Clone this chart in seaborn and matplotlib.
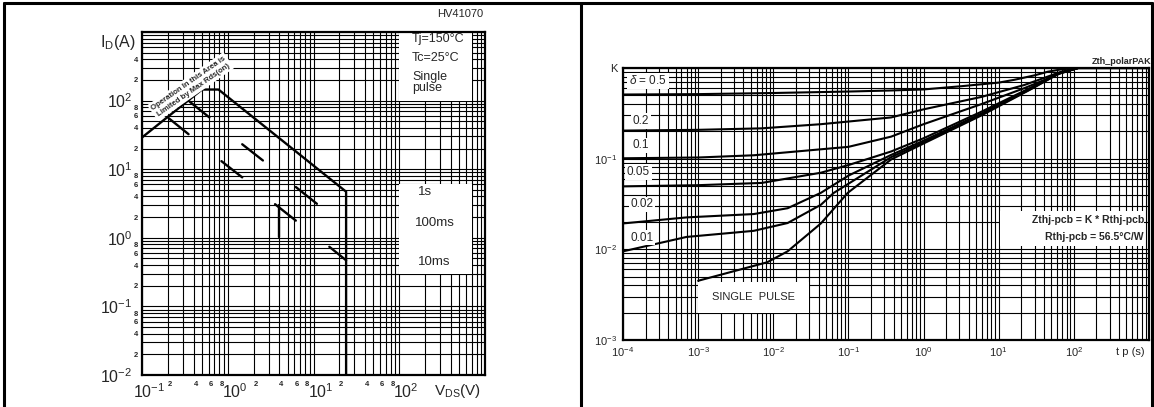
import matplotlib
matplotlib.use("Agg")
import numpy as np
import pandas as pd
import matplotlib.pyplot as plt
import seaborn as sns
from matplotlib.patches import Rectangle
from matplotlib.lines import Line2D
from matplotlib.ticker import FixedLocator, FixedFormatter
from matplotlib.transforms import ScaledTranslation

# ---------------- data: safe operating area (HV41070) ----------------
soa_vds = [0.1, 0.5, 0.78, 24.0, 24.0]
soa_id = [29.0, 145.0, 145.0, 4.7, 0.01]

# short pulse-limit segments: [start, end] for V_DS and I_D
seg_vds = [[0.204, 0.349], [0.359, 0.610], [0.844, 1.475], [1.475, 2.57],
           [6.22, 10.96], [3.56, 6.22], [15.3, 24.0], [4.0, 4.0]]
seg_id = [[55.6, 32.4], [96.6, 56.9], [13.1, 7.6], [23.1, 13.4],
          [5.5, 3.13], [3.09, 1.78], [0.74, 0.47], [3.0, 1.03]]

# ---------------- data: normalized thermal impedance ----------------
tp_d05 = [1e-4, 1e-3, 1e-2, 1e-1, 0.37, 1, 3.2, 10, 16, 30, 45, 70, 114, 1000]
k_d05 = [0.51, 0.515, 0.53, 0.55, 0.565, 0.58, 0.63, 0.69, 0.74, 0.83, 0.91, 0.97, 1.0, 1.0]
tp_d02 = [1e-4, 1e-3, 7e-3, 4.3e-2, 0.37, 1, 5.9, 22, 68, 114, 1000]
k_d02 = [0.204, 0.208, 0.216, 0.24, 0.285, 0.35, 0.48, 0.65, 0.91, 1.0, 1.0]
tp_d01 = [1e-4, 1e-3, 5.5e-3, 0.1, 0.37, 1, 5.9, 22, 68, 114, 1000]
k_d01 = [0.101, 0.103, 0.109, 0.135, 0.175, 0.24, 0.40, 0.60, 0.88, 1.0, 1.0]
tp_d005 = [1e-4, 1e-3, 7e-3, 4.3e-2, 0.1, 0.37, 1, 5.9, 27, 63, 114, 1000]
k_d005 = [0.0495, 0.051, 0.054, 0.070, 0.085, 0.12, 0.168, 0.33, 0.61, 0.88, 1.0, 1.0]
tp_d002 = [1e-4, 7e-4, 5.5e-3, 1.55e-2, 4.3e-2, 0.1, 0.37, 1, 5.9, 27, 63, 114, 1000]
k_d002 = [0.0193, 0.0225, 0.0245, 0.0284, 0.042, 0.065, 0.11, 0.158, 0.315, 0.60, 0.875, 1.0, 1.0]
tp_d001 = [1e-4, 7e-4, 5.5e-3, 1.55e-2, 4.3e-2, 6.4e-2, 0.37, 1, 5.9, 27, 63, 114, 1000]
k_d001 = [0.0095, 0.0137, 0.016, 0.0195, 0.031, 0.042, 0.104, 0.152, 0.308, 0.59, 0.87, 1.0, 1.0]
tp_single = [1e-3, 8.3e-3, 1.55e-2, 4.3e-2, 9.8e-2, 0.37, 1, 5.9, 27, 63, 114, 1000]
k_single = [0.0045, 0.0072, 0.0095, 0.0193, 0.042, 0.098, 0.147, 0.30, 0.585, 0.865, 1.0, 1.0]

duty_labels = ["0.5", "0.2", "0.1", "0.05", "0.02", "0.01", "single"]

# ---------------- style ----------------
sns.set_theme(style="white")
plt.rcParams["font.family"] = ["Liberation Sans", "DejaVu Sans"]
plt.rcParams["mathtext.fontset"] = "custom"
plt.rcParams["mathtext.rm"] = "Liberation Sans"
plt.rcParams["mathtext.it"] = "Liberation Sans:italic"
plt.rcParams["mathtext.bf"] = "Liberation Sans:bold"
plt.rcParams["axes.axisbelow"] = True

W, H = 1154, 407
fig = plt.figure(figsize=(W / 100, H / 100), dpi=100)
fig.patch.set_facecolor("white")


def fx(px):
    return px / W


def fy(py):
    return 1 - py / H


axL = fig.add_axes([fx(142), fy(375), (485 - 142) / W, (375 - 32) / H])
axR = fig.add_axes([fx(623), fy(340), (1149 - 623) / W, (340 - 68) / H])

# panel frame
for xs, ys in [([4, 1152], [3, 3]), ([4, 4], [3, 407]), ([581, 581], [3, 407]),
               ([1152, 1152], [3, 407])]:
    fig.add_artist(Line2D([fx(x) for x in xs], [fy(y) for y in ys],
                          transform=fig.transFigure, color="black", lw=2.2))


def minor_positions(decades):
    return [m * d for d in decades for m in range(2, 10)]


def setup_log_grid(ax):
    ax.set_xscale("log")
    ax.set_yscale("log")
    ax.grid(which="both", color="black", lw=0.8)
    for s in ax.spines.values():
        s.set_color("black")
        s.set_linewidth(1.6)
    ax.tick_params(which="both", length=0)


# ================= left: safe operating area =================
axL.set_xlim(0.1, 1000)
axL.set_ylim(0.01, 1000)
setup_log_grid(axL)

x_dec = [0.1, 1, 10, 100]
x_minor = minor_positions(x_dec)
x_minor_lbl = [str(m) if (d < 100 and m in (2, 4, 6, 8)) else ""
               for d in x_dec for m in range(2, 10)]
axL.xaxis.set_major_locator(FixedLocator([0.1, 1, 10, 100, 1000]))
axL.xaxis.set_major_formatter(FixedFormatter(
    [r"$10^{-1}$", r"$10^{0}$", r"$10^{1}$", r"$10^{2}$", ""]))
axL.xaxis.set_minor_locator(FixedLocator(x_minor))
axL.xaxis.set_minor_formatter(FixedFormatter(x_minor_lbl))

y_dec = [0.01, 0.1, 1, 10, 100]
y_minor = minor_positions(y_dec)
y_minor_lbl = []
for d in y_dec:
    for m in range(2, 10):
        keep = (2, 4) if d == 100 else (2, 4, 6, 8)
        y_minor_lbl.append(str(m) if m in keep else "")
axL.yaxis.set_major_locator(FixedLocator([0.01, 0.1, 1, 10, 100, 1000]))
axL.yaxis.set_major_formatter(FixedFormatter(
    [r"$10^{-2}$", r"$10^{-1}$", r"$10^{0}$", r"$10^{1}$", r"$10^{2}$", ""]))
axL.yaxis.set_minor_locator(FixedLocator(y_minor))
axL.yaxis.set_minor_formatter(FixedFormatter(y_minor_lbl))

axL.tick_params(axis="x", which="major", labelsize=11.5, pad=5.5)
axL.tick_params(axis="y", which="major", labelsize=11.5, pad=7)
axL.tick_params(which="minor", labelsize=5.5)
axL.tick_params(axis="x", which="minor", pad=4)
axL.tick_params(axis="y", which="minor", pad=3)
for lab in axL.get_xminorticklabels() + axL.get_yminorticklabels():
    lab.set_fontweight("bold")

# major V_DS decade labels sit a little to the right of their grid line
shift_right = ScaledTranslation(7 / 100, 0, fig.dpi_scale_trans)
for tick in axL.xaxis.get_major_ticks():
    tick.label1.set_transform(tick.label1.get_transform() + shift_right)
shift_minor = ScaledTranslation(2 / 100, 0, fig.dpi_scale_trans)
for tick in axL.xaxis.get_minor_ticks():
    tick.label1.set_transform(tick.label1.get_transform() + shift_minor)

# condition boxes
axL.add_patch(Rectangle((100, 100), 600, 900, facecolor="white",
                        edgecolor="none", zorder=1))
axL.add_patch(Rectangle((100, 0.3), 600, 5.7, facecolor="white",
                        edgecolor="none", zorder=1))

soa_df = pd.DataFrame({"vds": soa_vds, "id": soa_id})
sns.lineplot(data=soa_df, x="vds", y="id", ax=axL, color="black", lw=1.7,
             sort=False, estimator=None, zorder=3)

seg_rows = []
for k, (vv, ii) in enumerate(zip(seg_vds, seg_id)):
    for v, i in zip(vv, ii):
        seg_rows.append({"seg": k, "vds": v, "id": i})
seg_df = pd.DataFrame(seg_rows)
sns.lineplot(data=seg_df, x="vds", y="id", units="seg", ax=axL, color="black",
             lw=1.7, sort=False, estimator=None, zorder=3)
axL.set_xlabel("")
axL.set_ylabel("")

axL.text(0.37, 160, "Operation In this Area is\nLimited by Max Rds(on)",
         rotation=35, rotation_mode="anchor", ha="center", va="center",
         fontsize=5.6, fontweight="bold", linespacing=1.3, zorder=4,
         bbox=dict(boxstyle="square,pad=0.25", facecolor="white", edgecolor="none"))

fig.text(fx(412), fy(39), "Tj=150°C", fontsize=9, va="center", ha="left")
fig.text(fx(412), fy(58), "Tc=25°C", fontsize=9, va="center", ha="left")
fig.text(fx(412), fy(77), "Single", fontsize=9, va="center", ha="left")
fig.text(fx(412), fy(88), "pulse", fontsize=9, va="center", ha="left")
fig.text(fx(425), fy(192), "1s", fontsize=9.5, va="center", ha="center")
fig.text(fx(435), fy(223), "100ms", fontsize=9.5, va="center", ha="center")
fig.text(fx(434), fy(262), "10ms", fontsize=9.5, va="center", ha="center")
fig.text(fx(483), fy(14), "HV41070", fontsize=8, va="center", ha="right")
fig.text(fx(118), fy(42), r"I$_{\mathrm{D}}$(A)", fontsize=11.5, va="center", ha="center")
fig.text(fx(457), fy(391), r"V$_{\mathrm{DS}}$(V)", fontsize=11, va="center", ha="center")

# ================= right: thermal impedance =================
axR.set_xlim(1e-4, 1000)
axR.set_ylim(1e-3, 1.0)
setup_log_grid(axR)
axR.xaxis.set_major_locator(FixedLocator([1e-4, 1e-3, 1e-2, 1e-1, 1, 10, 100, 1000]))
axR.xaxis.set_major_formatter(FixedFormatter(
    [r"$10^{-4}$", r"$10^{-3}$", r"$10^{-2}$", r"$10^{-1}$", r"$10^{0}$",
     r"$10^{1}$", r"$10^{2}$", ""]))
axR.xaxis.set_minor_locator(FixedLocator(minor_positions([1e-4, 1e-3, 1e-2, 1e-1, 1, 10, 100])))
axR.xaxis.set_minor_formatter(FixedFormatter([""] * 56))
axR.yaxis.set_major_locator(FixedLocator([1e-3, 1e-2, 1e-1, 1]))
axR.yaxis.set_major_formatter(FixedFormatter([r"$10^{-3}$", r"$10^{-2}$", r"$10^{-1}$", "K"]))
axR.yaxis.set_minor_locator(FixedLocator(minor_positions([1e-3, 1e-2, 1e-1])))
axR.yaxis.set_minor_formatter(FixedFormatter([""] * 24))
axR.tick_params(which="major", labelsize=8, pad=4)

axR.add_patch(Rectangle((1e-3, 0.002), 2.9e-2, 0.0024, facecolor="white",
                        edgecolor="none", zorder=1))
axR.add_patch(Rectangle((10.5, 0.0108), 860, 0.0157, facecolor="white",
                        edgecolor="none", zorder=1))

curves = [(tp_d05, k_d05), (tp_d02, k_d02), (tp_d01, k_d01), (tp_d005, k_d005),
          (tp_d002, k_d002), (tp_d001, k_d001), (tp_single, k_single)]
rows = []
for name, (tt, kk) in zip(duty_labels, curves):
    for t, k in zip(tt, kk):
        rows.append({"duty": name, "tp": t, "K": k})
zth_df = pd.DataFrame(rows)
sns.lineplot(data=zth_df, x="tp", y="K", units="duty", ax=axR, color="black",
             lw=1.5, sort=False, estimator=None, zorder=3)
axR.set_xlabel("")
axR.set_ylabel("")

box = dict(boxstyle="square,pad=0.15", facecolor="white", edgecolor="none")
axR.text(1.2e-4, 0.72, r"$\delta$ = 0.5", fontsize=8.5, ha="left", va="center", bbox=box, zorder=4)
axR.text(1.35e-4, 0.259, "0.2", fontsize=8.5, ha="left", va="center", bbox=box, zorder=4)
axR.text(1.35e-4, 0.14, "0.1", fontsize=8.5, ha="left", va="center", bbox=box, zorder=4)
axR.text(1.12e-4, 0.0716, "0.05", fontsize=8.5, ha="left", va="center", bbox=box, zorder=4)
axR.text(1.25e-4, 0.0314, "0.02", fontsize=8.5, ha="left", va="center", bbox=box, zorder=4)
axR.text(1.25e-4, 0.01345, "0.01", fontsize=8.5, ha="left", va="center", bbox=box, zorder=4)
axR.text(5.45e-3, 0.0030, "SINGLE  PULSE", fontsize=8, ha="center", va="center", zorder=4)
axR.text(870, 0.0208, "Zthj-pcb = K * Rthj-pcb", fontsize=7.5, fontweight="bold",
         ha="right", va="center", zorder=4)
axR.text(850, 0.0138, "Rthj-pcb = 56.5°C/W", fontsize=7.5, fontweight="bold",
         ha="right", va="center", zorder=4)

fig.text(fx(1151), fy(62), "Zth_polarPAK", fontsize=6.5, fontweight="bold",
         ha="right", va="center")
fig.text(fx(1130), fy(352), "t p (s)", fontsize=8, ha="center", va="center")

fig.savefig("out.png", dpi=100, facecolor="white")
